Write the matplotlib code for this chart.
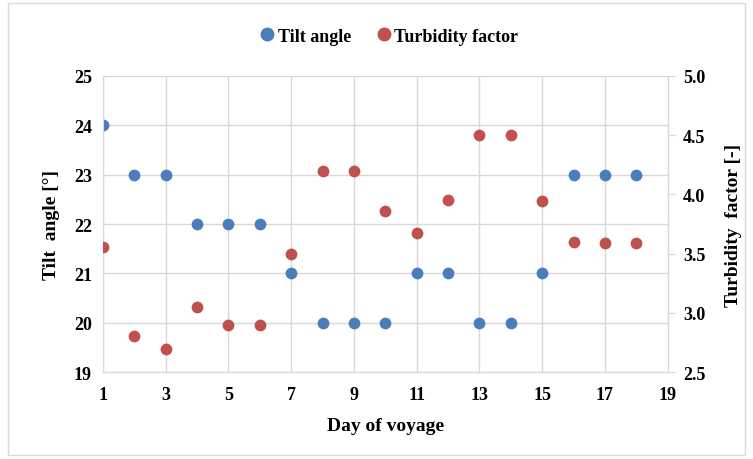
import matplotlib
matplotlib.use("Agg")
import matplotlib.pyplot as plt
from matplotlib.patches import Rectangle
from matplotlib.lines import Line2D

days = list(range(1, 19))
tilt_angle = [24, 23, 23, 22, 22, 22, 21, 20, 20, 20, 21, 21, 20, 20, 21, 23, 23, 23]
turbidity = [3.56, 2.81, 2.70, 3.05, 2.90, 2.90, 3.50, 4.20, 4.20, 3.86, 3.67, 3.95,
             4.50, 4.50, 3.94, 3.60, 3.59, 3.59]
x_ticks = [1, 3, 5, 7, 9, 11, 13, 15, 17, 19]
left_ticks = [19, 20, 21, 22, 23, 24, 25]
right_ticks = [2.5, 3.0, 3.5, 4.0, 4.5, 5.0]

blue = "#4a7ebb"
red = "#c0504d"
grid_c = "#d9d9d9"

plt.rcParams['font.family'] = ['Liberation Serif', 'DejaVu Serif']
plt.rcParams['font.weight'] = 'bold'

fig = plt.figure(figsize=(7.53, 4.60), dpi=100)
ax = fig.add_axes([103/753, 1-373.3/460, (667.7-103)/753, (373.3-76.7)/460])
ax2 = ax.twinx()

ax.set_xlim(1, 19)
ax.set_ylim(19, 25)
ax2.set_ylim(2.5, 5.0)
ax.set_xticks(x_ticks)
ax.set_yticks(left_ticks)
ax2.set_yticks(right_ticks)
ax2.set_yticklabels([f"{v:.1f}" for v in right_ticks])

ax.grid(True, color=grid_c, linewidth=1.0)
ax.set_axisbelow(True)

ax.scatter(days, tilt_angle, s=72, color=blue, zorder=3, linewidths=0)
ax2.scatter(days, turbidity, s=72, color=red, zorder=3, linewidths=0)

for a in (ax, ax2):
    for s in a.spines.values():
        s.set_color(grid_c)
    a.spines['top'].set_visible(False)

ax.tick_params(axis='both', labelsize=13, colors='black', length=0, pad=8)
ax.tick_params(axis='x', pad=10)
ax2.tick_params(axis='y', labelsize=13, colors='black', length=5, pad=6, color=grid_c)
for lab in ax.get_xticklabels() + ax.get_yticklabels() + ax2.get_yticklabels():
    lab.set_fontweight('bold')

ax.set_xlabel("Day of voyage", fontsize=14, fontweight='bold', labelpad=10)
ax.set_ylabel("Tilt  angle [°]", fontsize=14, fontweight='bold', labelpad=10)
ax2.set_ylabel("Turbidity  factor [-]", fontsize=14, fontweight='bold', labelpad=14)

handles = [Line2D([], [], marker='o', linestyle='', color=blue, markersize=9),
           Line2D([], [], marker='o', linestyle='', color=red, markersize=9)]
fig.legend(handles, ["Tilt angle", "Turbidity factor"], loc='center',
           bbox_to_anchor=(390/753, 1-37/460), ncol=2, frameon=False,
           prop={'size': 13, 'weight': 'bold'}, handlelength=0.6,
           handletextpad=0.3, columnspacing=1.5)

fig.patches.append(Rectangle((8/753, 4/460), (745-8)/753, (456-4)/460, transform=fig.transFigure,
                             fill=False, edgecolor='#d9d9d9', linewidth=1))

fig.savefig("out.png", dpi=100)
